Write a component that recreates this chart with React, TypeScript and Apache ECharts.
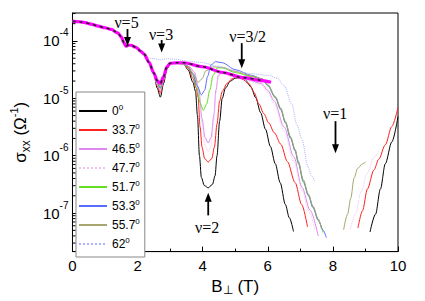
import React, { useEffect, useRef } from 'react';
import * as echarts from 'echarts';

// ---- legend / series meta ----
const angleNames = ['0', '33.7', '46.5', '47.7', '51.7', '53.3', '55.7', '62'];
const angleColors = ['#000000', '#ff2020', '#dd88ee', '#f2c4f2', '#66dd22', '#5a6cff', '#a8a670', '#aab2ff'];
const angleLineTypes = ['solid', 'solid', 'solid', 'dotted', 'solid', 'solid', 'solid', 'dotted'];

// ---- shared low-field curve (B in T, log10 sigma) ----
const commonB = [0, 0.2, 0.38, 0.6, 0.79, 1.0, 1.19, 1.39, 1.5, 1.58, 1.64, 1.72, 1.8, 1.95, 2.1, 2.2, 2.35, 2.5];
const commonLog = [-3.656, -3.665, -3.68, -3.71, -3.74, -3.77, -3.8, -3.86, -3.93, -4.03, -4.09, -4.075, -4.075, -4.11, -4.18, -4.23, -4.37, -4.56];

// ---- nu=3 minimum ----
const nu3B = [2.6, 2.7, 2.8, 2.9, 3.0];
const nu3Log0 = [-4.82, -4.98, -4.74, -4.49, -4.39];
const nu3Log337 = [-4.78, -4.91, -4.7, -4.48, -4.39];
const nu3Log465 = [-4.76, -4.87, -4.68, -4.47, -4.39];
const nu3Log477 = [-4.75, -4.85, -4.67, -4.47, -4.39];
const nu3Log517 = [-4.74, -4.83, -4.66, -4.46, -4.39];
const nu3Log533 = [-4.73, -4.82, -4.65, -4.46, -4.38];
const nu3Log557 = [-4.72, -4.8, -4.64, -4.46, -4.38];
const nu3LogRef = [-4.69, -4.74, -4.62, -4.45, -4.39];

// ---- 0 deg ----
const mainB0 = [3.2, 3.4, 3.55, 3.7, 3.78, 3.84, 3.9, 3.96, 4.05, 4.17, 4.3, 4.38, 4.44, 4.52, 4.6, 4.7, 4.85, 5.0, 5.12, 5.33, 5.48, 5.63, 5.78, 5.93, 6.08, 6.23, 6.38, 6.54, 6.66, 6.79];
const mainLog0 = [-4.38, -4.39, -4.5, -4.72, -4.88, -5.3, -6.0, -6.38, -6.52, -6.56, -6.5, -6.35, -6.0, -5.4, -5.0, -4.82, -4.7, -4.65, -4.64, -4.69, -4.8, -4.99, -5.25, -5.54, -5.84, -6.14, -6.47, -6.85, -7.08, -7.32];
const riseB0 = [9.14, 9.31, 9.46, 9.61, 9.81, 10.0];
const riseLog0 = [-7.33, -7.02, -6.58, -6.14, -5.76, -5.32];

// ---- 33.7 deg ----
const mainB337 = [3.2, 3.4, 3.55, 3.7, 3.8, 3.86, 3.92, 3.98, 4.06, 4.17, 4.28, 4.36, 4.44, 4.52, 4.6, 4.75, 4.9, 5.0, 5.2, 5.43, 5.58, 5.73, 5.88, 6.03, 6.2, 6.4, 6.6, 6.84, 7.04, 7.22];
const mainLog337 = [-4.38, -4.39, -4.47, -4.65, -4.82, -4.98, -5.5, -5.85, -6.05, -6.11, -6.05, -5.85, -5.45, -5.05, -4.88, -4.74, -4.66, -4.63, -4.66, -4.75, -4.9, -5.1, -5.27, -5.43, -5.6, -5.8, -6.1, -6.47, -6.85, -7.24];
const riseB337 = [8.77, 8.91, 9.06, 9.26, 9.41, 9.61, 9.81, 10.0];
const riseLog337 = [-7.26, -6.96, -6.58, -6.25, -6.06, -5.81, -5.49, -5.16];

// ---- 46.5 deg ----
const mainB465 = [3.2, 3.4, 3.6, 3.75, 3.88, 3.98, 4.07, 4.17, 4.26, 4.34, 4.41, 4.48, 4.6, 5.0, 5.4, 5.8, 6.0, 6.2, 6.5, 6.8, 7.05, 7.3, 7.55];
const mainLog465 = [-4.4, -4.41, -4.45, -4.55, -4.85, -5.35, -5.68, -5.78, -5.68, -5.3, -4.85, -4.6, -4.55, -4.62, -4.68, -4.74, -4.86, -5.05, -5.5, -6.02, -6.55, -6.95, -7.4];

// ---- 47.7 deg ----
const mainB477 = [3.2, 3.4, 3.6, 3.75, 3.88, 3.98, 4.07, 4.17, 4.26, 4.34, 4.41, 4.48, 4.6, 5.0, 5.4, 5.8, 6.0, 6.2, 6.5, 6.8, 7.05, 7.25, 7.44];
const mainLog477 = [-4.41, -4.42, -4.46, -4.58, -4.9, -5.45, -5.82, -5.93, -5.82, -5.4, -4.9, -4.62, -4.57, -4.64, -4.7, -4.76, -4.9, -5.1, -5.58, -6.1, -6.6, -6.95, -7.28];
const riseB477 = [8.53, 8.7, 8.86, 9.06, 9.26, 9.44];
const riseLog477 = [-7.29, -7.02, -6.63, -6.3, -6.03, -5.9];

// ---- 51.7 deg ----
const mainB517 = [3.2, 3.4, 3.55, 3.7, 3.82, 3.92, 4.02, 4.12, 4.22, 4.32, 4.45, 4.6, 5.0, 5.5, 5.83, 6.0, 6.23, 6.4, 6.54, 6.7, 6.84, 6.94, 7.09, 7.25, 7.39, 7.55, 7.7];
const mainLog517 = [-4.39, -4.4, -4.45, -4.6, -4.82, -5.08, -5.21, -5.1, -4.85, -4.6, -4.47, -4.47, -4.55, -4.62, -4.67, -4.78, -4.99, -5.2, -5.43, -5.7, -5.92, -6.14, -6.46, -6.7, -6.91, -7.13, -7.34];

// ---- 53.3 deg ----
const mainB533 = [3.2, 3.4, 3.55, 3.7, 3.83, 3.96, 4.06, 4.15, 4.25, 4.4, 4.6, 5.0, 5.5, 5.83, 6.0, 6.23, 6.4, 6.54, 6.7, 6.84, 6.94, 7.09, 7.25, 7.39, 7.55, 7.7, 7.8];
const mainLog533 = [-4.38, -4.39, -4.44, -4.58, -4.78, -4.94, -4.86, -4.62, -4.42, -4.36, -4.38, -4.5, -4.6, -4.66, -4.77, -4.98, -5.19, -5.42, -5.69, -5.91, -6.12, -6.44, -6.69, -6.9, -7.12, -7.3, -7.43];

// ---- 55.7 deg ----
const mainB557 = [3.2, 3.4, 3.55, 3.7, 3.86, 3.98, 4.1, 4.3, 4.6, 5.0, 5.5, 5.83, 6.0, 6.23, 6.4, 6.54, 6.7, 6.84, 6.94, 7.09, 7.25, 7.39, 7.55, 7.65];
const mainLog557 = [-4.38, -4.39, -4.44, -4.56, -4.72, -4.66, -4.52, -4.45, -4.46, -4.53, -4.61, -4.66, -4.76, -4.97, -5.17, -5.4, -5.67, -5.89, -6.1, -6.42, -6.67, -6.88, -7.1, -7.28];
const riseB557 = [8.33, 8.45, 8.55, 8.65, 8.76, 8.91, 9.01];
const riseLog557 = [-7.29, -7.02, -6.74, -6.39, -6.22, -6.14, -6.11];

// ---- 62 deg ----
const mainB62 = [2.35, 2.5, 2.7, 2.9, 3.2, 3.5, 4.0, 4.5, 5.0, 5.5, 6.0, 6.3, 6.5, 6.74, 6.89, 7.04, 7.24, 7.34, 7.44];
const mainLog62 = [-4.3, -4.31, -4.33, -4.31, -4.32, -4.35, -4.38, -4.45, -4.52, -4.57, -4.6, -4.65, -4.78, -5.1, -5.45, -5.7, -6.2, -6.35, -6.44];

// ---- thick reference trace (magenta with black dashes) ----
const refB = [3.2, 3.41, 4.0, 4.62, 5.23, 5.83, 6.1];
const refLog = [-4.38, -4.38, -4.45, -4.55, -4.64, -4.69, -4.72];

// ---- annotations ----
const annoLabels = ['ν=5', 'ν=3', 'ν=3/2', 'ν=1', 'ν=2'];
const annoTextB = [1.66, 2.72, 5.38, 8.07, 4.14];
const annoTextLog = [-3.685, -3.885, -3.923, -5.267, -7.25];
const annoArrowB = [1.69, 2.74, 5.2, 8.08, 4.17];
const annoFromLog = [-3.792, -3.984, -4.038, -5.398, -7.04];
const annoToLog = [-4.087, -4.2, -4.475, -5.956, -6.644];

// ---- axis ----
const yMin = 2.13e-8;
const yMax = 3.07e-4;
const xTicks = [0, 2, 4, 6, 8, 10];
const minorExps = [-8, -7, -6, -5, -4];
const minorMults = [2, 3, 4, 5, 6, 7, 8, 9];

const SANS = '"Liberation Sans", Arial, sans-serif';
const SERIF = '"Liberation Serif", "Times New Roman", serif';

const pts = (B: number[], L: number[]) => B.map((b, i) => [b, Math.pow(10, L[i])]);
const GAP: any[] = [8.05, '-'];

export default function App() {
  const ref = useRef<HTMLDivElement>(null);
  useEffect(() => {
    if (!ref.current) return;
    const chart = echarts.init(ref.current, undefined, { renderer: 'svg' });

    const low = pts(commonB, commonLog);
    const seriesData: any[][] = [
      [...low, ...pts(nu3B, nu3Log0), ...pts(mainB0, mainLog0), GAP, ...pts(riseB0, riseLog0)],
      [...low, ...pts(nu3B, nu3Log337), ...pts(mainB337, mainLog337), GAP, ...pts(riseB337, riseLog337)],
      [...low, ...pts(nu3B, nu3Log465), ...pts(mainB465, mainLog465)],
      [...low, ...pts(nu3B, nu3Log477), ...pts(mainB477, mainLog477), GAP, ...pts(riseB477, riseLog477)],
      [...low, ...pts(nu3B, nu3Log517), ...pts(mainB517, mainLog517)],
      [...low, ...pts(nu3B, nu3Log533), ...pts(mainB533, mainLog533)],
      [...low, ...pts(nu3B, nu3Log557), ...pts(mainB557, mainLog557), GAP, ...pts(riseB557, riseLog557)],
      [...pts(commonB.slice(0, 16), commonLog.slice(0, 16)), ...pts(mainB62, mainLog62)],
    ];
    const refData = [...low, ...pts(nu3B, nu3LogRef), ...pts(refB, refLog)];

    const minorVals: number[][] = [];
    minorExps.forEach((e) => minorMults.forEach((m) => {
      const v = m * Math.pow(10, e);
      if (v > yMin && v < yMax) minorVals.push([0, v]);
    }));

    const lineSeries = angleNames.map((n, i) => ({
      type: 'line',
      name: n,
      data: seriesData[i],
      showSymbol: false,
      symbol: 'none',
      smooth: 0.3,
      smoothMonotone: 'x',
      connectNulls: false,
      lineStyle: { color: angleColors[i], width: 1, type: angleLineTypes[i] },
      itemStyle: { color: angleColors[i] },
      z: 2,
    }));

    const option: any = {
      animation: false,
      grid: { left: 67, right: 27, top: 13, bottom: 34, show: true, borderColor: '#000', borderWidth: 1 },
      legend: {
        data: angleNames,
        orient: 'vertical',
        left: 76,
        top: 92,
        itemWidth: 28,
        itemHeight: 14,
        itemGap: 5,
        padding: [11, 5, 7, 2],
        borderColor: '#888',
        borderWidth: 1,
        backgroundColor: '#fff',
        selectedMode: false,
        itemStyle: { opacity: 0, borderWidth: 0 },
        formatter: (name: string) => `{n|${name}}{s|0}`,
        textStyle: {
          color: '#000',
          fontFamily: SANS,
          fontSize: 12,
          rich: {
            n: { fontSize: 12, lineHeight: 16, fontFamily: SANS, color: '#000' },
            s: { fontSize: 8, lineHeight: 8, verticalAlign: 'top', fontFamily: SANS, color: '#000' },
          },
        },
      },
      xAxis: {
        type: 'value',
        min: 0,
        max: 10,
        interval: 2,
        axisLine: { lineStyle: { color: '#000', width: 1 } },
        axisTick: { inside: true, length: 5, lineStyle: { color: '#000' } },
        minorTick: { show: true, splitNumber: 2, length: 3, lineStyle: { color: '#000' } },
        splitLine: { show: false },
        axisLabel: {
          color: '#000', fontSize: 15, fontFamily: SANS, margin: 6,
          formatter: (v: number) => (xTicks.includes(v) ? String(v) : ''),
        },
        name: '{b|B}{s|⊥}{b| (T)}',
        nameLocation: 'middle',
        nameGap: 16,
        nameTextStyle: {
          verticalAlign: 'top',
          rich: {
            b: { fontSize: 17, fontFamily: SANS, color: '#000', lineHeight: 20 },
            s: { fontSize: 12, fontFamily: SANS, color: '#000', verticalAlign: 'bottom', lineHeight: 14 },
          },
        },
      },
      yAxis: {
        type: 'log',
        logBase: 10,
        min: yMin,
        max: yMax,
        axisLine: { lineStyle: { color: '#000', width: 1 } },
        axisTick: { inside: true, length: 5, lineStyle: { color: '#000' } },
        splitLine: { show: false },
        minorTick: { show: false },
        axisLabel: {
          showMinLabel: false,
          showMaxLabel: false,
          margin: 4,
          formatter: (v: number) => `{b|10}{s|${Math.round(Math.log10(v))}}`,
          rich: {
            b: { fontSize: 15, fontFamily: SANS, color: '#000', lineHeight: 26 },
            s: { fontSize: 10, fontFamily: SANS, color: '#000', lineHeight: 10, verticalAlign: 'top' },
          },
        },
        name: '{b|σ}{s|xx}{b| (Ω}{p|-1}{b|)}',
        nameLocation: 'middle',
        nameGap: 36,
        nameTextStyle: {
          rich: {
            b: { fontSize: 17, fontFamily: SANS, color: '#000', lineHeight: 24 },
            s: { fontSize: 12, fontFamily: SANS, color: '#000', lineHeight: 12, verticalAlign: 'bottom' },
            p: { fontSize: 11, fontFamily: SANS, color: '#000', lineHeight: 11, verticalAlign: 'top' },
          },
        },
      },
      series: [
        ...lineSeries,
        {
          type: 'line', name: 'ref', data: refData, showSymbol: false, symbol: 'none',
          smooth: 0.3, smoothMonotone: 'x',
          lineStyle: { color: '#ff00ff', width: 3.2 }, z: 3, silent: true,
        },
        {
          type: 'line', name: 'refdash', data: refData.filter((p) => p[0] <= 5.9), showSymbol: false, symbol: 'none',
          smooth: 0.3, smoothMonotone: 'x',
          lineStyle: { color: '#222', width: 1.6, type: [3, 4] }, z: 4, silent: true,
        },
        {
          type: 'custom',
          name: 'minorY',
          data: minorVals,
          silent: true,
          clip: false,
          z: 5,
          renderItem: (_p: any, api: any) => {
            const c = api.coord([0, api.value(1)]);
            return {
              type: 'line',
              shape: { x1: c[0], y1: c[1], x2: c[0] + 3, y2: c[1] },
              style: { stroke: '#000', lineWidth: 1 },
            };
          },
        },
        {
          type: 'custom',
          name: 'anno',
          data: annoArrowB.map((b, i) => [b, Math.pow(10, annoToLog[i])]),
          silent: true,
          clip: false,
          z: 6,
          renderItem: (params: any, api: any) => {
            const i = params.dataIndex;
            const t = api.coord([annoTextB[i], Math.pow(10, annoTextLog[i])]);
            const a = api.coord([annoArrowB[i], Math.pow(10, annoFromLog[i])]);
            const b = api.coord([annoArrowB[i], Math.pow(10, annoToLog[i])]);
            const dir = b[1] > a[1] ? 1 : -1;
            const headLen = 9;
            const headW = 3.5;
            return {
              type: 'group',
              children: [
                {
                  type: 'text',
                  style: {
                    text: annoLabels[i], x: t[0], y: t[1], align: 'center', verticalAlign: 'middle',
                    fontSize: 16, fontFamily: SERIF, fill: '#000',
                  },
                },
                {
                  type: 'line',
                  shape: { x1: a[0], y1: a[1], x2: b[0], y2: b[1] - dir * headLen * 0.8 },
                  style: { stroke: '#000', lineWidth: 1.8 },
                },
                {
                  type: 'polygon',
                  shape: {
                    points: [
                      [b[0], b[1]],
                      [b[0] - headW, b[1] - dir * headLen],
                      [b[0] + headW, b[1] - dir * headLen],
                    ],
                  },
                  style: { fill: '#000' },
                },
              ],
            };
          },
        },
      ],
    };
    chart.setOption(option);
    return () => chart.dispose();
  }, []);
  return <div ref={ref} style={{ position: 'fixed', left: 0, top: 0, width: 425, height: 301, background: '#fff' }} />;
}
